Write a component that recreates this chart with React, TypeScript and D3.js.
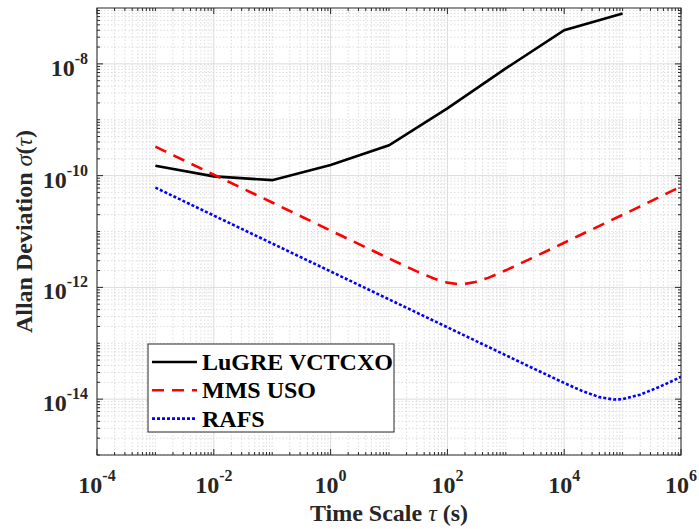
import React from 'react';
import * as d3 from 'd3';

// ---- data ----
const luTau = [1e-3, 1e-2, 1e-1, 1, 10, 100, 1e3, 1e4, 1e5];
const luSigma = [1.5e-10, 9.7e-11, 8.3e-11, 1.55e-10, 3.5e-10, 1.6e-9, 8.3e-9, 4.0e-8, 8.0e-8];

const mmsTau = [1e-3, 1e-2, 1e-1, 1, 10, 30, 60, 100, 150, 200, 300, 500, 1e3, 3e3, 1e4, 3e4, 1e5, 3e5, 1e6];
const mmsSigma = [3.3e-10, 1.04e-10, 3.3e-11, 1.04e-11, 3.29e-12, 1.93e-12, 1.43e-12, 1.215e-12, 1.147e-12, 1.155e-12, 1.245e-12, 1.48e-12, 2.02e-12, 3.45e-12, 6.3e-12, 1.09e-11, 1.99e-11, 3.45e-11, 6.4e-11];

const rafsTau = [1e-3, 1e-2, 1e-1, 1, 10, 100, 1e3, 3e3, 1e4, 2e4, 4e4, 7e4, 1e5, 2e5, 4e5, 7e5, 1e6];
const rafsSigma = [6.1e-11, 1.93e-11, 6.1e-12, 1.93e-12, 6.1e-13, 1.93e-13, 6.1e-14, 3.52e-14, 1.945e-14, 1.41e-14, 1.086e-14, 9.84e-15, 9.99e-15, 1.2e-14, 1.61e-14, 2.1e-14, 2.51e-14];

const seriesNames = ['LuGRE VCTCXO', 'MMS USO', 'RAFS'];
const xTickExps = [-4, -2, 0, 2, 4, 6];
const yTickExps = [-14, -12, -10, -8];

const W = 699, H = 529;
const L = 97, R = 681, T = 8, B = 455;
const FONT = '"Liberation Serif", "Times New Roman", serif';

export default function App() {
  const x = d3.scaleLog().domain([1e-4, 1e6]).range([L, R]);
  const y = d3.scaleLog().domain([1e-15, 1e-7]).range([B, T]);

  const xMinor: number[] = [];
  for (let e = -4; e < 6; e++) for (let k = 1; k <= 9; k++) {
    const v = k * Math.pow(10, e);
    if (!(k === 1 && e % 2 === 0)) xMinor.push(v);
  }
  const yMinor: number[] = [];
  for (let e = -15; e < -7; e++) for (let k = 1; k <= 9; k++) {
    const v = k * Math.pow(10, e);
    if (!(k === 1 && e % 2 === 0)) yMinor.push(v);
  }

  const line = d3.line<[number, number]>().x(d => x(d[0])).y(d => y(d[1]));
  const lu = line(luTau.map((t, i) => [t, luSigma[i]]))!;
  const mms = line(mmsTau.map((t, i) => [t, mmsSigma[i]]))!;
  const rafs = line(rafsTau.map((t, i) => [t, rafsSigma[i]]))!;

  const axisColor = '#262626';
  const styles = [
    { stroke: '#000000', dash: undefined as string | undefined },
    { stroke: '#ff0000', dash: '12,8' },
    { stroke: '#0000ff', dash: '3,2' },
  ];

  return (
    <svg width={W} height={H} style={{ position: 'absolute', left: 0, top: 0, background: '#fff' }} fontFamily={FONT}>
      <rect x={0} y={0} width={W} height={H} fill="#fff" />
      <defs>
        <clipPath id="plot"><rect x={L} y={T} width={R - L} height={B - T} /></clipPath>
      </defs>
      {/* minor grid */}
      <g stroke="#d4d4d4" strokeWidth={0.8} strokeDasharray="1.5,2">
        {xMinor.map((v, i) => <line key={'xm' + i} x1={x(v)} x2={x(v)} y1={T} y2={B} />)}
        {yMinor.map((v, i) => <line key={'ym' + i} x1={L} x2={R} y1={y(v)} y2={y(v)} />)}
      </g>
      {/* major grid */}
      <g stroke="#dbdbdb" strokeWidth={1}>
        {xTickExps.map(e => <line key={'xg' + e} x1={x(Math.pow(10, e))} x2={x(Math.pow(10, e))} y1={T} y2={B} />)}
        {yTickExps.map(e => <line key={'yg' + e} x1={L} x2={R} y1={y(Math.pow(10, e))} y2={y(Math.pow(10, e))} />)}
      </g>
      {/* data */}
      <g clipPath="url(#plot)" fill="none" strokeWidth={2.6}>
        <path d={lu} stroke={styles[0].stroke} />
        <path d={mms} stroke={styles[1].stroke} strokeDasharray={styles[1].dash} />
        <path d={rafs} stroke={styles[2].stroke} strokeDasharray={styles[2].dash} />
      </g>
      {/* ticks */}
      <g stroke={axisColor} strokeWidth={1}>
        {xMinor.map((v, i) => (
          <g key={'xt' + i}>
            <line x1={x(v)} x2={x(v)} y1={B} y2={B - 3} />
            <line x1={x(v)} x2={x(v)} y1={T} y2={T + 3} />
          </g>
        ))}
        {yMinor.map((v, i) => (
          <g key={'yt' + i}>
            <line x1={L} x2={L + 3} y1={y(v)} y2={y(v)} />
            <line x1={R} x2={R - 3} y1={y(v)} y2={y(v)} />
          </g>
        ))}
        {xTickExps.map(e => (
          <g key={'xM' + e}>
            <line x1={x(Math.pow(10, e))} x2={x(Math.pow(10, e))} y1={B} y2={B - 6} />
            <line x1={x(Math.pow(10, e))} x2={x(Math.pow(10, e))} y1={T} y2={T + 6} />
          </g>
        ))}
        {yTickExps.map(e => (
          <g key={'yM' + e}>
            <line x1={L} x2={L + 6} y1={y(Math.pow(10, e))} y2={y(Math.pow(10, e))} />
            <line x1={R} x2={R - 6} y1={y(Math.pow(10, e))} y2={y(Math.pow(10, e))} />
          </g>
        ))}
      </g>
      {/* axes box */}
      <rect x={L} y={T} width={R - L} height={B - T} fill="none" stroke={axisColor} strokeWidth={1} />
      {/* x tick labels */}
      <g fontWeight="bold" fill="#262626">
        {xTickExps.map(e => (
          <text key={'xl' + e} x={x(Math.pow(10, e))} y={493} textAnchor="middle" fontSize={24}>
            10<tspan fontSize={16} dy={-12}>{e < 0 ? '-' + Math.abs(e) : String(e)}</tspan>
          </text>
        ))}
        {yTickExps.map(e => (
          <text key={'yl' + e} x={88} y={y(Math.pow(10, e)) + 12} textAnchor="end" fontSize={24}>
            10<tspan fontSize={16} dy={-12}>{'-' + Math.abs(e)}</tspan>
          </text>
        ))}
      </g>
      {/* axis titles */}
      <text x={(L + R) / 2} y={521} textAnchor="middle" fontSize={24} fontWeight="bold" fill="#262626">
        Time Scale <tspan fontStyle="italic" fontWeight="normal">τ</tspan> (s)
      </text>
      <text transform={`translate(32,${(T + B) / 2}) rotate(-90)`} textAnchor="middle" fontSize={24} fontWeight="bold" fill="#262626">
        Allan Deviation <tspan fontStyle="italic" fontWeight="normal">σ</tspan>(<tspan fontStyle="italic" fontWeight="normal">τ</tspan>)
      </text>
      {/* legend */}
      <g>
        <rect x={148} y={344} width={246} height={88} fill="#fff" stroke={axisColor} strokeWidth={1} />
        {seriesNames.map((name, i) => {
          const cy = 362 + i * 28.3;
          return (
            <g key={name}>
              <line x1={152} x2={197} y1={cy} y2={cy} stroke={styles[i].stroke} strokeWidth={2.6} strokeDasharray={styles[i].dash} />
              <text x={202} y={cy + 8} fontSize={24} fontWeight="bold" fill="#000">{name}</text>
            </g>
          );
        })}
      </g>
    </svg>
  );
}
